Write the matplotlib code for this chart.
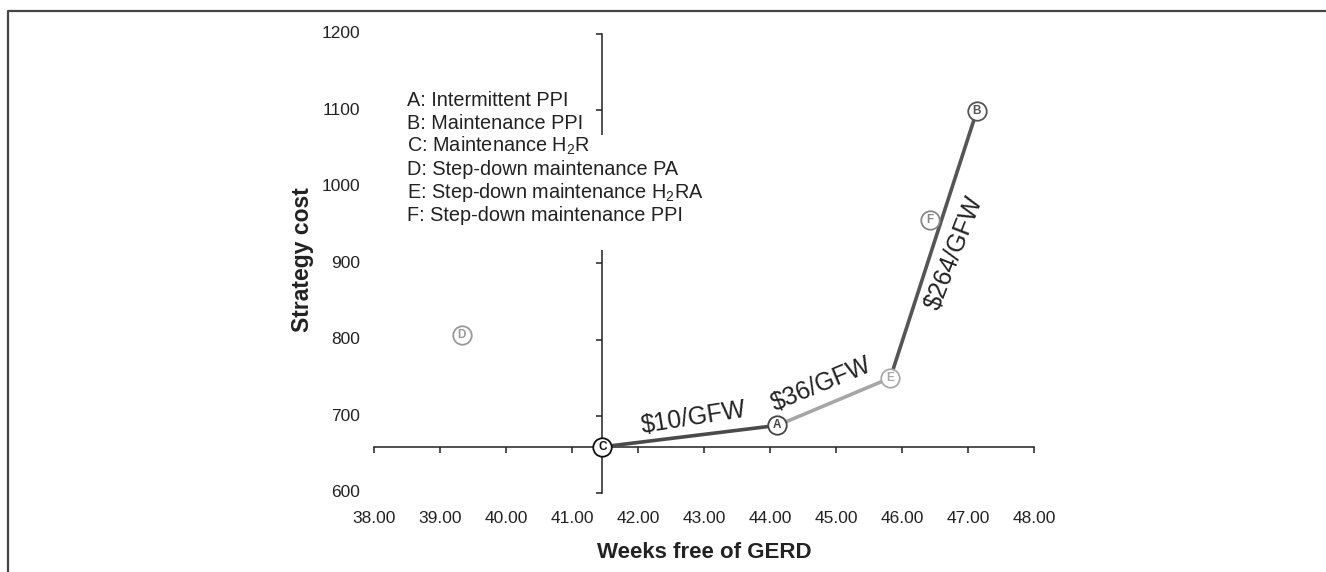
import matplotlib.pyplot as plt
from matplotlib.lines import Line2D
from matplotlib.patches import Rectangle

plt.rcParams['font.family'] = ['Liberation Sans', 'DejaVu Sans']
plt.rcParams['mathtext.fontset'] = 'custom'
plt.rcParams['mathtext.rm'] = 'Liberation Sans'
plt.rcParams['mathtext.bf'] = 'Liberation Sans:bold'

# strategies: weeks free of GERD vs cost
names = ['A', 'B', 'C', 'D', 'E', 'F']
weeks = [44.11, 47.13, 41.46, 39.33, 45.82, 46.42]
cost = [688, 1099, 660, 806, 750, 957]
edge_cols = ['#444444', '#555555', '#111111', '#999999', '#aaaaaa', '#888888']

# efficient frontier segments
frontier = [('C', 'A', '#4a4a4a'), ('A', 'E', '#a6a6a6'), ('E', 'B', '#555555')]
rate_labels = ['\\$10/GFW', '\\$36/GFW', '\\$264/GFW']
rate_x = [42.85, 44.78, 46.79]
rate_y = [698, 741, 913]
rate_rot = [9, 22.5, 68.5]

legend_lines = ['A: Intermittent PPI', 'B: Maintenance PPI',
                'C: Maintenance H$_\\mathregular{2}$R',
                'D: Step-down maintenance PA',
                'E: Step-down maintenance H$_\\mathregular{2}$RA',
                'F: Step-down maintenance PPI']

xticks = [38, 39, 40, 41, 42, 43, 44, 45, 46, 47, 48]
yticks = [600, 700, 800, 900, 1000, 1100, 1200]

fig = plt.figure(figsize=(13.26, 5.72), dpi=100)
ax = fig.add_axes([0.282, 0.1386, 0.498, 0.8025])
ax.set_xlim(38, 48)
ax.set_ylim(600, 1200)
ax.set_zorder(1)

for s in ['top', 'right']:
    ax.spines[s].set_visible(False)
ax.spines['left'].set_position(('data', weeks[2]))
ax.spines['bottom'].set_position(('data', cost[2]))
for s in ['left', 'bottom']:
    ax.spines[s].set_linewidth(1.1)
    ax.spines[s].set_color('#222222')
ax.set_xticks(xticks)
ax.set_yticks(yticks)
ax.tick_params(direction='out', length=4, width=1.1, color='#222222',
               labelbottom=False, labelleft=False)

# tick labels sit at the axes edge, not on the crossing spines
for v in yticks:
    ax.text(-0.021, v, str(v), transform=ax.get_yaxis_transform(),
            ha='right', va='center', fontsize=12.5, color='#222222')
for v in xticks:
    ax.text(v, -0.057, f'{v:.2f}', transform=ax.get_xaxis_transform(),
            ha='center', va='center', fontsize=12.5, color='#222222')

idx = {n: i for i, n in enumerate(names)}
for a, b, c in frontier:
    ax.plot([weeks[idx[a]], weeks[idx[b]]], [cost[idx[a]], cost[idx[b]]],
            color=c, lw=2.6, solid_capstyle='butt', zorder=3)

for n, x, y, c in zip(names, weeks, cost, edge_cols):
    ax.plot(x, y, 'o', ms=13.3, mfc='white', mec=c, mew=1.3, zorder=4,
            clip_on=False)
    ax.text(x, y, n, ha='center', va='center', fontsize=8.5, fontweight='bold',
            color=c, zorder=5)

for t, x, y, r in zip(rate_labels, rate_x, rate_y, rate_rot):
    ax.text(x, y, t, rotation=r, ha='center', va='center', fontsize=17.8,
            color='#222222', rotation_mode='anchor', zorder=5)

# legend lines; white patch hides the axis line behind the lower part
fig.add_artist(Rectangle((590 / 1326, 1 - 250 / 572), 20 / 1326, 115 / 572,
                         transform=fig.transFigure, facecolor='white',
                         edgecolor='none', zorder=2))
for i, t in enumerate(legend_lines):
    fig.text(407 / 1326, 1 - (106 + 23 * i) / 572, t, ha='left',
             va='baseline', fontsize=14.3, color='#222222', zorder=3)

fig.text(302 / 1326, 1 - 260 / 572, 'Strategy cost', rotation=90,
         ha='center', va='center', fontsize=16.5, fontweight='bold',
         color='#222222')
fig.text(704 / 1326, 1 - 552 / 572, 'Weeks free of GERD', ha='center',
         va='center', fontsize=16, fontweight='bold', color='#222222')

# outer frame lines (top and left)
fig.add_artist(Line2D([8 / 1326, 8 / 1326, 1], [0, 1 - 11 / 572, 1 - 11 / 572],
                      color='#444444', lw=1.6))

fig.savefig('out.png', dpi=100)
